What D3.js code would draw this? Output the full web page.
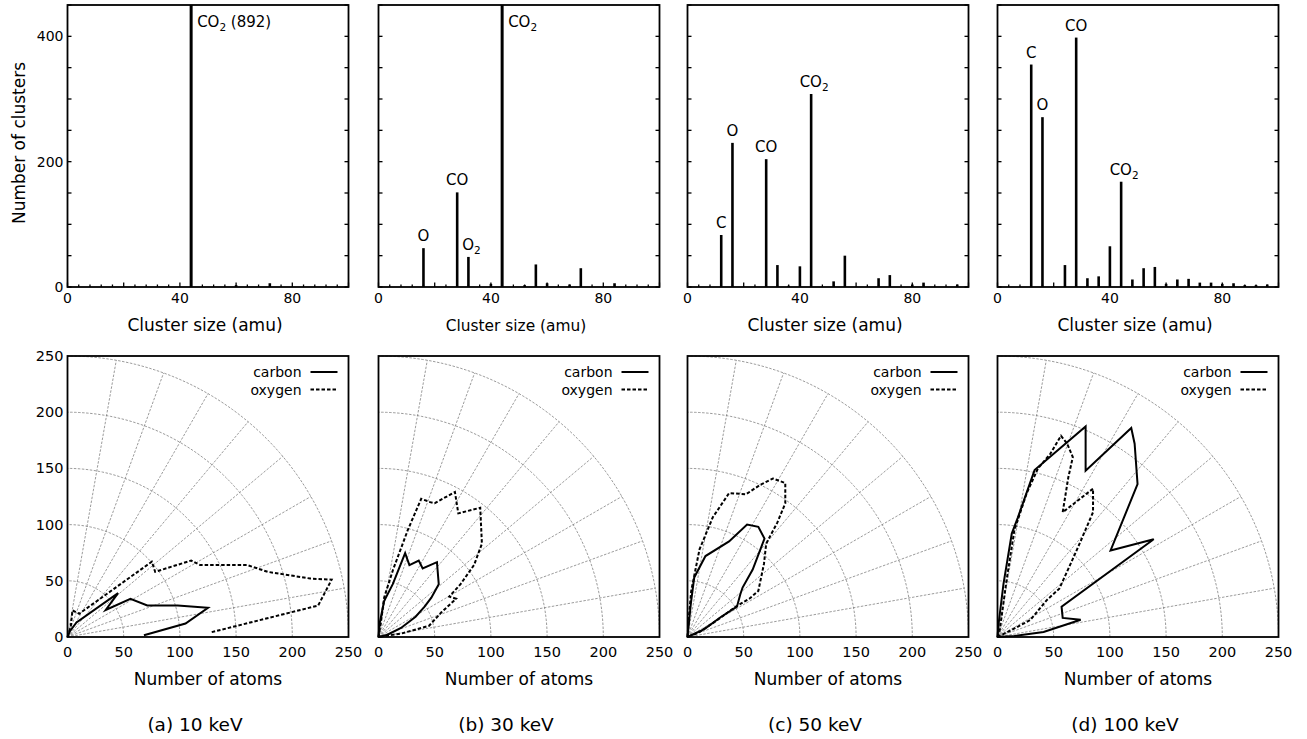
<!DOCTYPE html>
<html>
<head>
<meta charset="utf-8">
<script src="https://cdnjs.cloudflare.com/ajax/libs/d3/7.8.5/d3.min.js"></script>
<style>
body { margin: 0; background: #fff; }
text { font-family: "DejaVu Sans", sans-serif; fill: #000; }
</style>
</head>
<body>
<div id="chart"></div>
<script>
// panel captions
const captions = ['(a) 10 keV', '(b) 30 keV', '(c) 50 keV', '(d) 100 keV'];

// cluster size spectra: [cluster size (amu), number of clusters]
const spectrum10 = [[44, 892], [60, 3], [72, 6]];
const spectrum30 = [[16, 62], [28, 151], [32, 48], [40, 5], [44, 460], [52, 3], [56, 36], [60, 6],
    [68, 4], [72, 30], [84, 6]];
const spectrum50 = [[12, 83], [16, 230], [28, 204], [32, 35], [36, 2], [40, 33], [44, 308], [52, 9],
    [56, 50], [68, 14], [72, 19], [80, 4], [84, 7], [96, 4]];
const spectrum100 = [[12, 355], [16, 271], [24, 35], [28, 398], [32, 14], [36, 17], [40, 65], [44, 168],
    [48, 12], [52, 30], [56, 32], [60, 5], [64, 12], [68, 13], [72, 7], [76, 7], [80, 5], [84, 6],
    [88, 3], [92, 3], [96, 4]];

// peak labels
const peaks10 = [{amu: 44, main: 'CO', sub: '2', tail: ' (892)'}];
const peaks30 = [{amu: 16, main: 'O'}, {amu: 28, main: 'CO'}, {amu: 32, main: 'O', sub: '2'},
    {amu: 44, main: 'CO', sub: '2'}];
const peaks50 = [{amu: 12, main: 'C'}, {amu: 16, main: 'O'}, {amu: 28, main: 'CO'},
    {amu: 44, main: 'CO', sub: '2'}];
const peaks100 = [{amu: 12, main: 'C'}, {amu: 16, main: 'O'}, {amu: 28, main: 'CO'},
    {amu: 44, main: 'CO', sub: '2'}];

// angular distributions of sputtered atoms, points as [x atoms, y atoms]
const carbon10 = [[0, 0], [2, 5], [8, 13], [45, 39], [34, 24], [56, 34], [71, 28], [98, 28], [125, 26],
    [105, 12], [68, 1.5]];
const oxygen10 = [[0, 0], [3, 10], [4.4, 23.7], [10.4, 20.7], [75, 67], [78, 58], [110, 68], [118, 64],
    [160, 64], [178, 58], [216, 52], [235, 51], [223, 28], [127, 4]];
const carbon30 = [[0, 0], [1, 12], [5, 32], [12.7, 47], [23.7, 74.6], [27.5, 64], [35.8, 68], [39.3, 61],
    [52, 66.6], [53.6, 47], [47, 35], [41, 27], [33, 18], [20, 8], [8, 2], [0, 0]];
const oxygen30 = [[0, 0], [2, 12], [5, 35], [13, 60], [26, 95], [38, 123], [46, 120], [50, 119], [68, 129],
    [71, 110], [90.5, 115], [92, 83], [85, 64], [73, 47], [63, 36], [69, 34], [56, 22], [45, 10],
    [20, 3], [0, 0]];
const carbon50 = [[0, 0], [1, 10], [3, 30], [6, 53], [16, 72], [37, 85], [53, 100], [63, 98], [68.5, 87.5],
    [58, 60], [49, 44], [47, 38], [44, 27], [30, 18], [15, 7], [0, 0]];
const oxygen50 = [[0, 0], [1, 15], [3.3, 41], [10.7, 78], [22.5, 106.5], [37, 128], [52, 127], [65, 135.5],
    [76, 141], [87, 137], [87, 119], [80, 102], [70, 83], [68, 65], [63, 41], [55, 34], [43, 27],
    [25, 14], [10, 4], [0, 0]];
const carbon100 = [[0, 0], [1, 12], [5.3, 47], [12.7, 92], [18, 106], [33, 148.5], [78.4, 187.3],
    [78.4, 148], [119, 186], [122, 172], [124.6, 136], [100.6, 77], [139, 87], [57, 27], [58, 17],
    [74, 15.4], [41, 4.4], [15, 1], [0, 0]];
const oxygen100 = [[0, 0], [2, 6], [8, 50], [15, 95], [26, 128], [36, 150], [47, 163], [56.5, 179],
    [62, 172], [67, 160], [63, 142], [58, 111], [62, 114], [85, 132], [85, 111], [73, 83], [65, 65],
    [55, 43], [44, 33], [29, 15], [12, 6], [0, 0]];

const spectra = [spectrum10, spectrum30, spectrum50, spectrum100];
const peaks = [peaks10, peaks30, peaks50, peaks100];
const carbon = [carbon10, carbon30, carbon50, carbon100];
const oxygen = [oxygen10, oxygen30, oxygen50, oxygen100];

// ticks
const sizeTicks = d3.range(0, 101, 4);
const sizeLabels = [0, 40, 80];
const countTicks = d3.range(0, 451, 50);
const countLabels = [0, 200, 400];
const atomTicks = d3.range(0, 251, 50);
const gridAngles = d3.range(10, 90, 10);

// layout
const width = 1307, height = 739;
const frame_left = [67.5, 378.5, 687.5, 997.5];
const frame_size = 281;
const top_y0 = 5, top_y1 = 287;
const bot_y0 = 356, bot_y1 = 637;

const svg = d3.select('#chart').append('svg')
    .attr('width', width)
    .attr('height', height);

// y title of spectra
svg.append('text')
    .attr('transform', `translate(25,${(top_y0 + top_y1) / 2 - 3})rotate(-90)`)
    .style('text-anchor', 'middle')
    .style('font-size', '17px')
    .text('Number of clusters');

frame_left.forEach((x0, i) => {
    const x1 = x0 + frame_size;

    // ---------- cluster size spectrum ----------
    const xs = d3.scaleLinear().domain([0, 100]).range([x0, x1]);
    const ys = d3.scaleLinear().domain([0, 450]).range([top_y1, top_y0]).clamp(true);
    const top = svg.append('g');

    top.selectAll('line.bar')
        .data(spectra[i])
        .enter()
        .append('line')
        .attr('class', 'bar')
        .attr('x1', d => xs(d[0]))
        .attr('x2', d => xs(d[0]))
        .attr('y1', ys(0))
        .attr('y2', d => ys(d[1]))
        .attr('stroke', '#000')
        .attr('stroke-width', d => d[0] === 44 && d[1] > 450 ? 3 : 2.6);

    // inner ticks
    top.selectAll('line.xt')
        .data(sizeTicks)
        .enter()
        .append('line')
        .attr('x1', d => xs(d))
        .attr('x2', d => xs(d))
        .attr('y1', top_y1)
        .attr('y2', d => top_y1 - (d % 20 === 0 ? 4.5 : 2.5))
        .attr('stroke', '#000')
        .attr('stroke-width', 1.3);
    [x0, x1].forEach((xx, side) => {
        top.selectAll(null)
            .data(countTicks)
            .enter()
            .append('line')
            .attr('x1', xx)
            .attr('x2', xx + (side ? -4 : 4))
            .attr('y1', d => ys(d))
            .attr('y2', d => ys(d))
            .attr('stroke', '#000')
            .attr('stroke-width', 1.3);
    });

    top.append('rect')
        .attr('x', x0).attr('y', top_y0)
        .attr('width', frame_size).attr('height', top_y1 - top_y0)
        .attr('fill', 'none').attr('stroke', '#000').attr('stroke-width', 1.8);

    top.selectAll('text.xl')
        .data(sizeLabels)
        .enter()
        .append('text')
        .attr('x', d => xs(d))
        .attr('y', 303)
        .style('text-anchor', 'middle')
        .style('font-size', '14px')
        .text(d => d);

    if (i === 0) {
        top.selectAll('text.yl')
            .data(countLabels)
            .enter()
            .append('text')
            .attr('x', x0 - 4)
            .attr('y', d => ys(d) + 5)
            .style('text-anchor', 'end')
            .style('font-size', '14px')
            .text(d => d);
    }

    top.append('text')
        .attr('x', (x0 + x1) / 2 - 3)
        .attr('y', 331)
        .style('text-anchor', 'middle')
        .style('font-size', i === 1 ? '15.4px' : '17px')
        .text('Cluster size (amu)');

    // peak labels
    peaks[i].forEach(p => {
        const value = spectra[i].find(d => d[0] === p.amu)[1];
        const clipped = value > 450;
        const t = top.append('text')
            .style('font-size', '15px')
            .style('text-anchor', clipped ? 'start' : 'middle')
            .attr('x', clipped ? xs(p.amu) + 6 : xs(p.amu) + (p.sub ? 3 : 0))
            .attr('y', clipped ? 27 : ys(value) - 7);
        t.append('tspan').text(p.main);
        if (p.sub) t.append('tspan').attr('dy', 4).style('font-size', '10.5px').text(p.sub);
        if (p.tail) t.append('tspan').attr('dy', -4).text(p.tail);
    });

    // ---------- angular distribution ----------
    const xp = d3.scaleLinear().domain([0, 250]).range([x0, x1]);
    const yp = d3.scaleLinear().domain([0, 250]).range([bot_y1, bot_y0]);
    const bot = svg.append('g');
    const grid = bot.append('g')
        .attr('fill', 'none')
        .attr('stroke', '#7a7a7a')
        .attr('stroke-width', 0.75)
        .attr('stroke-dasharray', '2.5,1.5');

    atomTicks.slice(1).forEach(r => {
        const arcPts = d3.range(0, 90.5, 1).map(a => [r * Math.cos(a * Math.PI / 180), r * Math.sin(a * Math.PI / 180)]);
        grid.append('path')
            .attr('d', d3.line().x(d => xp(d[0])).y(d => yp(d[1]))(arcPts));
    });
    grid.selectAll('line')
        .data(gridAngles)
        .enter()
        .append('line')
        .attr('x1', xp(0))
        .attr('y1', yp(0))
        .attr('x2', a => xp(250 * Math.cos(a * Math.PI / 180)))
        .attr('y2', a => yp(250 * Math.sin(a * Math.PI / 180)));

    const line = d3.line().x(d => xp(d[0])).y(d => yp(d[1]));
    bot.append('path')
        .attr('d', line(oxygen[i]))
        .attr('fill', 'none')
        .attr('stroke', '#000')
        .attr('stroke-width', 2)
        .attr('stroke-dasharray', '3.5,2');
    bot.append('path')
        .attr('d', line(carbon[i]))
        .attr('fill', 'none')
        .attr('stroke', '#000')
        .attr('stroke-width', 2)
        .attr('stroke-linejoin', 'miter');

    bot.append('rect')
        .attr('x', x0).attr('y', bot_y0)
        .attr('width', frame_size).attr('height', bot_y1 - bot_y0)
        .attr('fill', 'none').attr('stroke', '#000').attr('stroke-width', 1.8);

    // legend
    [['carbon', null, 377], ['oxygen', '3.5,2', 394.5]].forEach(([name, dash, yb]) => {
        bot.append('text')
            .attr('x', x1 - 47)
            .attr('y', yb)
            .style('text-anchor', 'end')
            .style('font-size', '14px')
            .text(name);
        bot.append('line')
            .attr('x1', x1 - 38).attr('x2', x1 - 11)
            .attr('y1', yb - 5).attr('y2', yb - 5)
            .attr('stroke', '#000')
            .attr('stroke-width', 2)
            .attr('stroke-dasharray', dash);
    });

    bot.selectAll('text.xl')
        .data(atomTicks)
        .enter()
        .append('text')
        .attr('x', d => xp(d))
        .attr('y', 657)
        .style('text-anchor', 'middle')
        .style('font-size', '14.5px')
        .text(d => d);

    if (i === 0) {
        bot.selectAll('text.yl')
            .data(atomTicks)
            .enter()
            .append('text')
            .attr('x', x0 - 4)
            .attr('y', d => yp(d) + 5)
            .style('text-anchor', 'end')
            .style('font-size', '14.5px')
            .text(d => d);
    }

    bot.append('text')
        .attr('x', (x0 + x1) / 2)
        .attr('y', 685)
        .style('text-anchor', 'middle')
        .style('font-size', '17px')
        .text('Number of atoms');

    svg.append('text')
        .attr('x', (x0 + x1) / 2 - 13)
        .attr('y', 731)
        .style('text-anchor', 'middle')
        .style('font-size', '18.5px')
        .text(captions[i]);
});
</script>
</body>
</html>
